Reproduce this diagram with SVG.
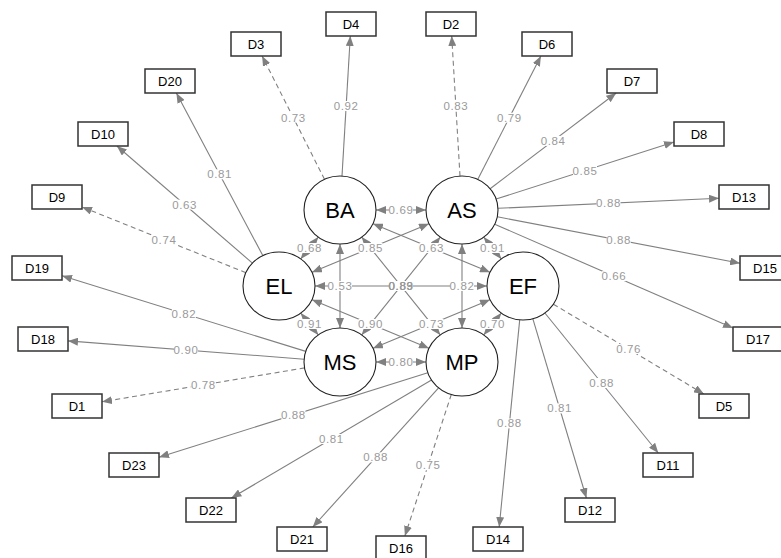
<svg xmlns="http://www.w3.org/2000/svg" width="781" height="558" viewBox="0 0 781 558">
<style>
.e{stroke:#808080;stroke-width:1.1;fill:none;marker-end:url(#ah)}
.d{stroke-dasharray:5,3.5}
.b{marker-start:url(#ah)}
.lb rect{fill:#fff}
.lb text{font-family:"Liberation Sans",Arial,sans-serif;font-size:11.5px;fill:#9a9a9a;text-anchor:middle;letter-spacing:0.6px}
.lat ellipse{fill:#fff;stroke:#222;stroke-width:1.1}
.lat text{font-family:"Liberation Sans",Arial,sans-serif;font-size:22px;fill:#000;text-anchor:middle}
.ind rect{fill:#fff;stroke:#333;stroke-width:1.5}
.ind text{font-family:"Liberation Sans",Arial,sans-serif;font-size:13px;fill:#000;text-anchor:middle}
</style>
<defs>
<marker id="ah" viewBox="0 0 10 8" refX="10" refY="4" markerWidth="10" markerHeight="8" markerUnits="userSpaceOnUse" orient="auto-start-reverse"><path d="M0,0L10,4L0,8z" fill="#808080"/></marker>
</defs>
<rect width="781" height="558" fill="#fff"/>
<g id="connectors">
<line class="e" x1="342" y1="176.1" x2="350.3" y2="36"/>
<line class="e d" x1="324.5" y1="179.3" x2="262.1" y2="56"/>
<line class="e" x1="262.8" y1="255.6" x2="176.4" y2="93"/>
<line class="e" x1="252.4" y1="263.1" x2="116.9" y2="146"/>
<line class="e d" x1="245.9" y1="272.7" x2="82" y2="207"/>
<line class="e" x1="305.8" y1="351.4" x2="62" y2="275.8"/>
<line class="e" x1="304.1" y1="359.2" x2="68" y2="340.9"/>
<line class="e d" x1="304.6" y1="367.9" x2="102" y2="401.8"/>
<line class="e" x1="427.8" y1="372.7" x2="159" y2="457.2"/>
<line class="e" x1="431.5" y1="380" x2="231.4" y2="498"/>
<line class="e" x1="438.6" y1="387.9" x2="312.8" y2="527"/>
<line class="e d" x1="451.3" y1="394.5" x2="404.9" y2="536"/>
<line class="e d" x1="460" y1="176.1" x2="451.7" y2="36"/>
<line class="e" x1="477.7" y1="179.4" x2="540.9" y2="56"/>
<line class="e" x1="490.1" y1="188.7" x2="616.2" y2="93"/>
<line class="e" x1="496.1" y1="199.1" x2="674" y2="142"/>
<line class="e" x1="498" y1="208.3" x2="719" y2="198.2"/>
<line class="e" x1="497.3" y1="216.8" x2="740" y2="263.2"/>
<line class="e" x1="494.7" y1="224.2" x2="733" y2="328.1"/>
<line class="e d" x1="553.4" y1="304.2" x2="703.9" y2="394"/>
<line class="e" x1="544.9" y1="313" x2="658.3" y2="453"/>
<line class="e" x1="532.8" y1="318.7" x2="586.4" y2="498"/>
<line class="e" x1="519.7" y1="319.9" x2="499.2" y2="527"/>
<line class="e b" x1="376" y1="210" x2="426" y2="210"/>
<line class="e b" x1="318.3" y1="237.1" x2="300.7" y2="258.9"/>
<line class="e b" x1="373" y1="223.7" x2="490" y2="272.3"/>
<line class="e b" x1="340" y1="244" x2="340" y2="328"/>
<line class="e b" x1="361.7" y1="237.1" x2="440.3" y2="334.9"/>
<line class="e b" x1="429" y1="223.7" x2="312" y2="272.3"/>
<line class="e b" x1="483.7" y1="237.1" x2="501.3" y2="258.9"/>
<line class="e b" x1="440.3" y1="237.1" x2="361.7" y2="334.9"/>
<line class="e b" x1="462" y1="244" x2="462" y2="328"/>
<line class="e b" x1="315" y1="286" x2="487" y2="286"/>
<line class="e b" x1="300.7" y1="313.1" x2="318.3" y2="334.9"/>
<line class="e b" x1="312" y1="299.7" x2="429" y2="348.3"/>
<line class="e b" x1="490" y1="299.7" x2="373" y2="348.3"/>
<line class="e b" x1="501.3" y1="313.1" x2="483.7" y2="334.9"/>
<line class="e b" x1="376" y1="362" x2="426" y2="362"/>
</g>
<g id="edge-labels" class="lb">
<rect x="334.1" y="101" width="24" height="10"/><text x="346.1" y="110">0.92</text>
<rect x="281.3" y="112.6" width="24" height="10"/><text x="293.3" y="121.6">0.73</text>
<rect x="207.6" y="169.3" width="24" height="10"/><text x="219.6" y="178.3">0.81</text>
<rect x="172.6" y="199.6" width="24" height="10"/><text x="184.6" y="208.6">0.63</text>
<rect x="152" y="234.9" width="24" height="10"/><text x="164" y="243.9">0.74</text>
<rect x="171.9" y="308.6" width="24" height="10"/><text x="183.9" y="317.6">0.82</text>
<rect x="174" y="345" width="24" height="10"/><text x="186" y="354">0.90</text>
<rect x="191.3" y="379.9" width="24" height="10"/><text x="203.3" y="388.9">0.78</text>
<rect x="281.4" y="409.9" width="24" height="10"/><text x="293.4" y="418.9">0.88</text>
<rect x="319.4" y="434" width="24" height="10"/><text x="331.4" y="443">0.81</text>
<rect x="363.7" y="452.4" width="24" height="10"/><text x="375.7" y="461.4">0.88</text>
<rect x="416.1" y="460.3" width="24" height="10"/><text x="428.1" y="469.3">0.75</text>
<rect x="443.9" y="101" width="24" height="10"/><text x="455.9" y="110">0.83</text>
<rect x="497.3" y="112.7" width="24" height="10"/><text x="509.3" y="121.7">0.79</text>
<rect x="541.1" y="135.9" width="24" height="10"/><text x="553.1" y="144.9">0.84</text>
<rect x="573" y="165.6" width="24" height="10"/><text x="585" y="174.6">0.85</text>
<rect x="596.5" y="198.2" width="24" height="10"/><text x="608.5" y="207.2">0.88</text>
<rect x="606.7" y="235" width="24" height="10"/><text x="618.7" y="244">0.88</text>
<rect x="601.9" y="271.2" width="24" height="10"/><text x="613.9" y="280.2">0.66</text>
<rect x="616.7" y="344.1" width="24" height="10"/><text x="628.7" y="353.1">0.76</text>
<rect x="589.6" y="378" width="24" height="10"/><text x="601.6" y="387">0.88</text>
<rect x="547.6" y="403.4" width="24" height="10"/><text x="559.6" y="412.4">0.81</text>
<rect x="497.4" y="418.4" width="24" height="10"/><text x="509.4" y="427.4">0.88</text>
<rect x="389" y="205" width="24" height="10"/><text x="401" y="214">0.69</text>
<rect x="297.5" y="243" width="24" height="10"/><text x="309.5" y="252">0.68</text>
<rect x="419.5" y="243" width="24" height="10"/><text x="431.5" y="252">0.63</text>
<rect x="328" y="281" width="24" height="10"/><text x="340" y="290">0.53</text>
<rect x="358.5" y="243" width="24" height="10"/><text x="370.5" y="252">0.85</text>
<rect x="480.5" y="243" width="24" height="10"/><text x="492.5" y="252">0.91</text>
<rect x="450" y="281" width="24" height="10"/><text x="462" y="290">0.82</text>
<rect x="389" y="281" width="24" height="10"/><text x="401" y="290">0.83</text><text x="401" y="290">0.89</text><text x="401" y="290">0.89</text>
<rect x="297.5" y="319" width="24" height="10"/><text x="309.5" y="328">0.91</text>
<rect x="358.5" y="319" width="24" height="10"/><text x="370.5" y="328">0.90</text>
<rect x="419.5" y="319" width="24" height="10"/><text x="431.5" y="328">0.73</text>
<rect x="480.5" y="319" width="24" height="10"/><text x="492.5" y="328">0.70</text>
<rect x="389" y="357" width="24" height="10"/><text x="401" y="366">0.80</text>
</g>
<g id="BA" class="lat"><ellipse cx="340" cy="210" rx="36" ry="34"/><text x="340" y="218">BA</text></g>
<g id="AS" class="lat"><ellipse cx="462" cy="210" rx="36" ry="34"/><text x="462" y="218">AS</text></g>
<g id="EL" class="lat"><ellipse cx="279" cy="286" rx="36" ry="34"/><text x="279" y="294">EL</text></g>
<g id="EF" class="lat"><ellipse cx="523" cy="286" rx="36" ry="34"/><text x="523" y="294">EF</text></g>
<g id="MS" class="lat"><ellipse cx="340" cy="362" rx="36" ry="34"/><text x="340" y="370">MS</text></g>
<g id="MP" class="lat"><ellipse cx="462" cy="362" rx="36" ry="34"/><text x="462" y="370">MP</text></g>
<g id="D4" class="ind"><rect x="326" y="12" width="50" height="24"/><text x="351" y="28.5">D4</text></g>
<g id="D2" class="ind"><rect x="426" y="12" width="50" height="24"/><text x="451" y="28.5">D2</text></g>
<g id="D3" class="ind"><rect x="231" y="32" width="50" height="24"/><text x="256" y="48.5">D3</text></g>
<g id="D6" class="ind"><rect x="522" y="32" width="50" height="24"/><text x="547" y="48.5">D6</text></g>
<g id="D20" class="ind"><rect x="145" y="69" width="50" height="24"/><text x="170" y="85.5">D20</text></g>
<g id="D7" class="ind"><rect x="607" y="69" width="50" height="24"/><text x="632" y="85.5">D7</text></g>
<g id="D10" class="ind"><rect x="78" y="122" width="50" height="24"/><text x="103" y="138.5">D10</text></g>
<g id="D8" class="ind"><rect x="674" y="122" width="50" height="24"/><text x="699" y="138.5">D8</text></g>
<g id="D9" class="ind"><rect x="32" y="185" width="50" height="24"/><text x="57" y="201.5">D9</text></g>
<g id="D13" class="ind"><rect x="719" y="185" width="50" height="24"/><text x="744" y="201.5">D13</text></g>
<g id="D19" class="ind"><rect x="12" y="256" width="50" height="24"/><text x="37" y="272.5">D19</text></g>
<g id="D15" class="ind"><rect x="740" y="256" width="50" height="24"/><text x="765" y="272.5">D15</text></g>
<g id="D18" class="ind"><rect x="18" y="327" width="50" height="24"/><text x="43" y="343.5">D18</text></g>
<g id="D17" class="ind"><rect x="733" y="327" width="50" height="24"/><text x="758" y="343.5">D17</text></g>
<g id="D1" class="ind"><rect x="52" y="394" width="50" height="24"/><text x="77" y="410.5">D1</text></g>
<g id="D5" class="ind"><rect x="699" y="394" width="50" height="24"/><text x="724" y="410.5">D5</text></g>
<g id="D23" class="ind"><rect x="109" y="453" width="50" height="24"/><text x="134" y="469.5">D23</text></g>
<g id="D11" class="ind"><rect x="643" y="453" width="50" height="24"/><text x="668" y="469.5">D11</text></g>
<g id="D22" class="ind"><rect x="186" y="498" width="50" height="24"/><text x="211" y="514.5">D22</text></g>
<g id="D12" class="ind"><rect x="565" y="498" width="50" height="24"/><text x="590" y="514.5">D12</text></g>
<g id="D21" class="ind"><rect x="277" y="527" width="50" height="24"/><text x="302" y="543.5">D21</text></g>
<g id="D14" class="ind"><rect x="473" y="527" width="50" height="24"/><text x="498" y="543.5">D14</text></g>
<g id="D16" class="ind"><rect x="376" y="536" width="50" height="24"/><text x="401" y="552.5">D16</text></g>
</svg>
